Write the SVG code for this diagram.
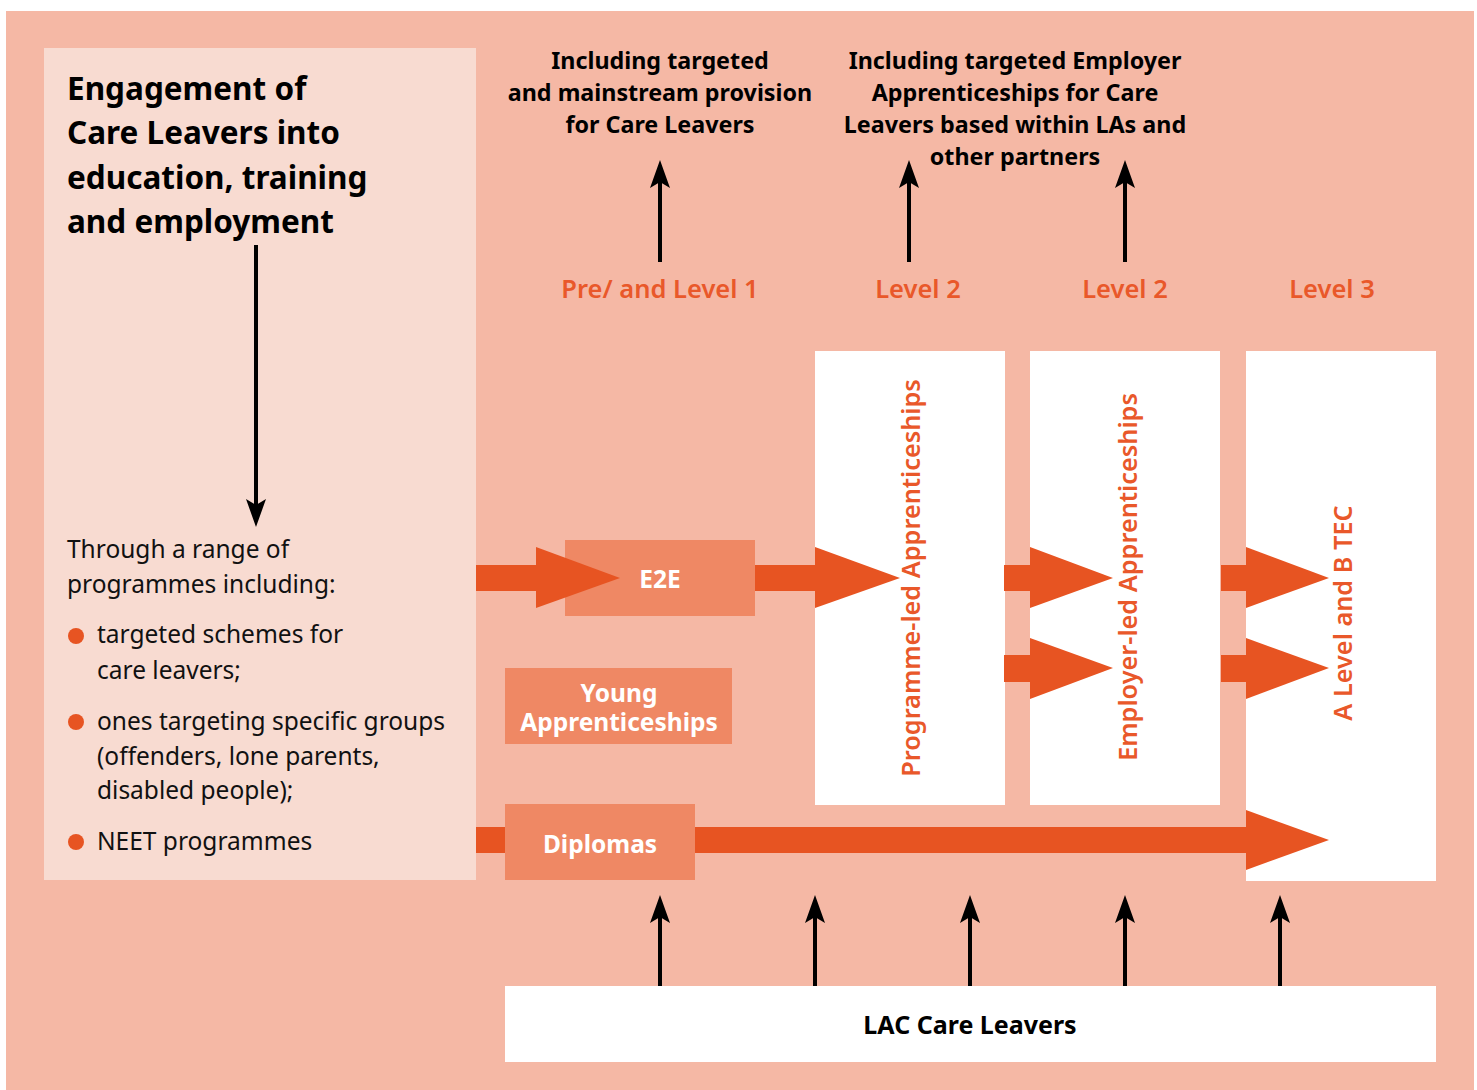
<svg xmlns="http://www.w3.org/2000/svg" width="1477" height="1090" viewBox="0 0 1477 1090">
<style>
.bg{fill:#F5B8A5}
.panel{fill:#F8DBD1}
.wbox{fill:#FFFFFF}
.obox{fill:#EF8864}
.oarrow{fill:#E75422}
.blk{stroke:#000;stroke-width:4;fill:none}
text{font-family:"Noto Sans","Open Sans","DejaVu Sans",sans-serif}
.title{font-size:31.5px;font-weight:bold;fill:#000}
.body{font-size:24.5px;fill:#111}
.top{font-size:23.3px;font-weight:bold;fill:#000;text-anchor:middle}
.lvl{font-size:25.5px;font-weight:600;fill:#E9582A;text-anchor:middle}
.vert{font-size:25.3px;font-weight:600;fill:#E9582A;text-anchor:middle}
.wlab{font-size:24.5px;font-weight:bold;fill:#FFFFFF;text-anchor:middle}
.lac{font-size:25px;font-weight:bold;fill:#000;text-anchor:middle}
.dot{fill:#E75422}
</style>
<defs>
<marker id="ah" markerUnits="userSpaceOnUse" markerWidth="30" markerHeight="22" viewBox="0 0 30 22" refX="6" refY="11" orient="auto">
<path d="M0,1 L28,11 L0,21 L6,11 Z" fill="#000"/>
</marker>
</defs>
<rect class="bg" x="6" y="11" width="1468" height="1079"/>

<g id="intro">
<rect class="panel" x="44" y="48" width="432" height="832"/>
<text class="title" x="67" y="100">Engagement of</text>
<text class="title" x="67" y="144">Care Leavers into</text>
<text class="title" x="67" y="189">education, training</text>
<text class="title" x="67" y="233">and employment</text>
</g>

<g id="programmes">
<text class="body" x="67" y="558">Through a range of</text>
<text class="body" x="67" y="593">programmes including:</text>
<circle class="dot" cx="76" cy="636" r="8"/>
<text class="body" x="97" y="643">targeted schemes for</text>
<text class="body" x="97" y="679">care leavers;</text>
<circle class="dot" cx="76" cy="722" r="8"/>
<text class="body" x="97" y="730">ones targeting specific groups</text>
<text class="body" x="97" y="765">(offenders, lone parents,</text>
<text class="body" x="97" y="799">disabled people);</text>
<circle class="dot" cx="76" cy="842" r="8"/>
<text class="body" x="97" y="850">NEET programmes</text>
</g>

<g id="note-targeted">
<text class="top" x="660" y="69">Including targeted</text>
<text class="top" x="660" y="101">and mainstream provision</text>
<text class="top" x="660" y="133">for Care Leavers</text>
</g>
<g id="note-employer">
<text class="top" x="1015" y="69">Including targeted Employer</text>
<text class="top" x="1015" y="101">Apprenticeships for Care</text>
<text class="top" x="1015" y="133">Leavers based within LAs and</text>
<text class="top" x="1015" y="165">other partners</text>
</g>

<g id="levels">
<text class="lvl" x="660" y="298">Pre/ and Level 1</text>
<text class="lvl" x="918" y="298">Level 2</text>
<text class="lvl" x="1125" y="298">Level 2</text>
<text class="lvl" x="1332" y="298">Level 3</text>
</g>

<g id="programme-led">
<rect class="wbox" x="815" y="351" width="190" height="454"/>
<text class="vert" transform="translate(920,578) rotate(-90)">Programme-led Apprenticeships</text>
</g>
<g id="employer-led">
<rect class="wbox" x="1030" y="351" width="190" height="454"/>
<text class="vert" transform="translate(1137,577) rotate(-90)">Employer-led Apprenticeships</text>
</g>
<g id="a-level">
<rect class="wbox" x="1246" y="351" width="190" height="530"/>
<text class="vert" transform="translate(1352,613) rotate(-90)">A Level and B TEC</text>
</g>

<g id="e2e">
<rect class="obox" x="565" y="540" width="190" height="76"/>
<text class="wlab" x="660" y="588">E2E</text>
</g>
<g id="young-apprenticeships">
<rect class="obox" x="505" y="668" width="227" height="76"/>
<text class="wlab" x="619" y="702">Young</text>
<text class="wlab" x="619" y="731">Apprenticeships</text>
</g>

<g id="connectors">
<rect class="oarrow" x="476" y="565" width="64" height="26"/>
<polygon class="oarrow" points="536,547 620,578 536,608"/>
<rect class="oarrow" x="755" y="565" width="62" height="26"/>
<polygon class="oarrow" points="815,547 900,578 815,608"/>
<rect class="oarrow" x="1004" y="565" width="28" height="26"/>
<polygon class="oarrow" points="1030,547 1113,578 1030,608"/>
<rect class="oarrow" x="1004" y="655" width="28" height="27"/>
<polygon class="oarrow" points="1030,638 1113,668 1030,699"/>
<rect class="oarrow" x="1221" y="565" width="27" height="26"/>
<polygon class="oarrow" points="1246,547 1329,578 1246,608"/>
<rect class="oarrow" x="1221" y="655" width="27" height="27"/>
<polygon class="oarrow" points="1246,638 1329,668 1246,699"/>
<rect class="oarrow" x="476" y="827" width="772" height="26"/>
<polygon class="oarrow" points="1246,810 1329,840 1246,870"/>
<line class="blk" x1="256" y1="245" x2="256" y2="505" marker-end="url(#ah)"/>
<line class="blk" x1="660" y1="262" x2="660" y2="182" marker-end="url(#ah)"/>
<line class="blk" x1="909" y1="262" x2="909" y2="182" marker-end="url(#ah)"/>
<line class="blk" x1="1125" y1="262" x2="1125" y2="182" marker-end="url(#ah)"/>
<line class="blk" x1="660" y1="986" x2="660" y2="917" marker-end="url(#ah)"/>
<line class="blk" x1="815" y1="986" x2="815" y2="917" marker-end="url(#ah)"/>
<line class="blk" x1="970" y1="986" x2="970" y2="917" marker-end="url(#ah)"/>
<line class="blk" x1="1125" y1="986" x2="1125" y2="917" marker-end="url(#ah)"/>
<line class="blk" x1="1280" y1="986" x2="1280" y2="917" marker-end="url(#ah)"/>
</g>

<g id="diplomas">
<rect class="obox" x="505" y="804" width="190" height="76"/>
<text class="wlab" x="600" y="853">Diplomas</text>
</g>

<g id="lac-care-leavers">
<rect class="wbox" x="505" y="986" width="931" height="76"/>
<text class="lac" x="970" y="1034">LAC Care Leavers</text>
</g>
</svg>
